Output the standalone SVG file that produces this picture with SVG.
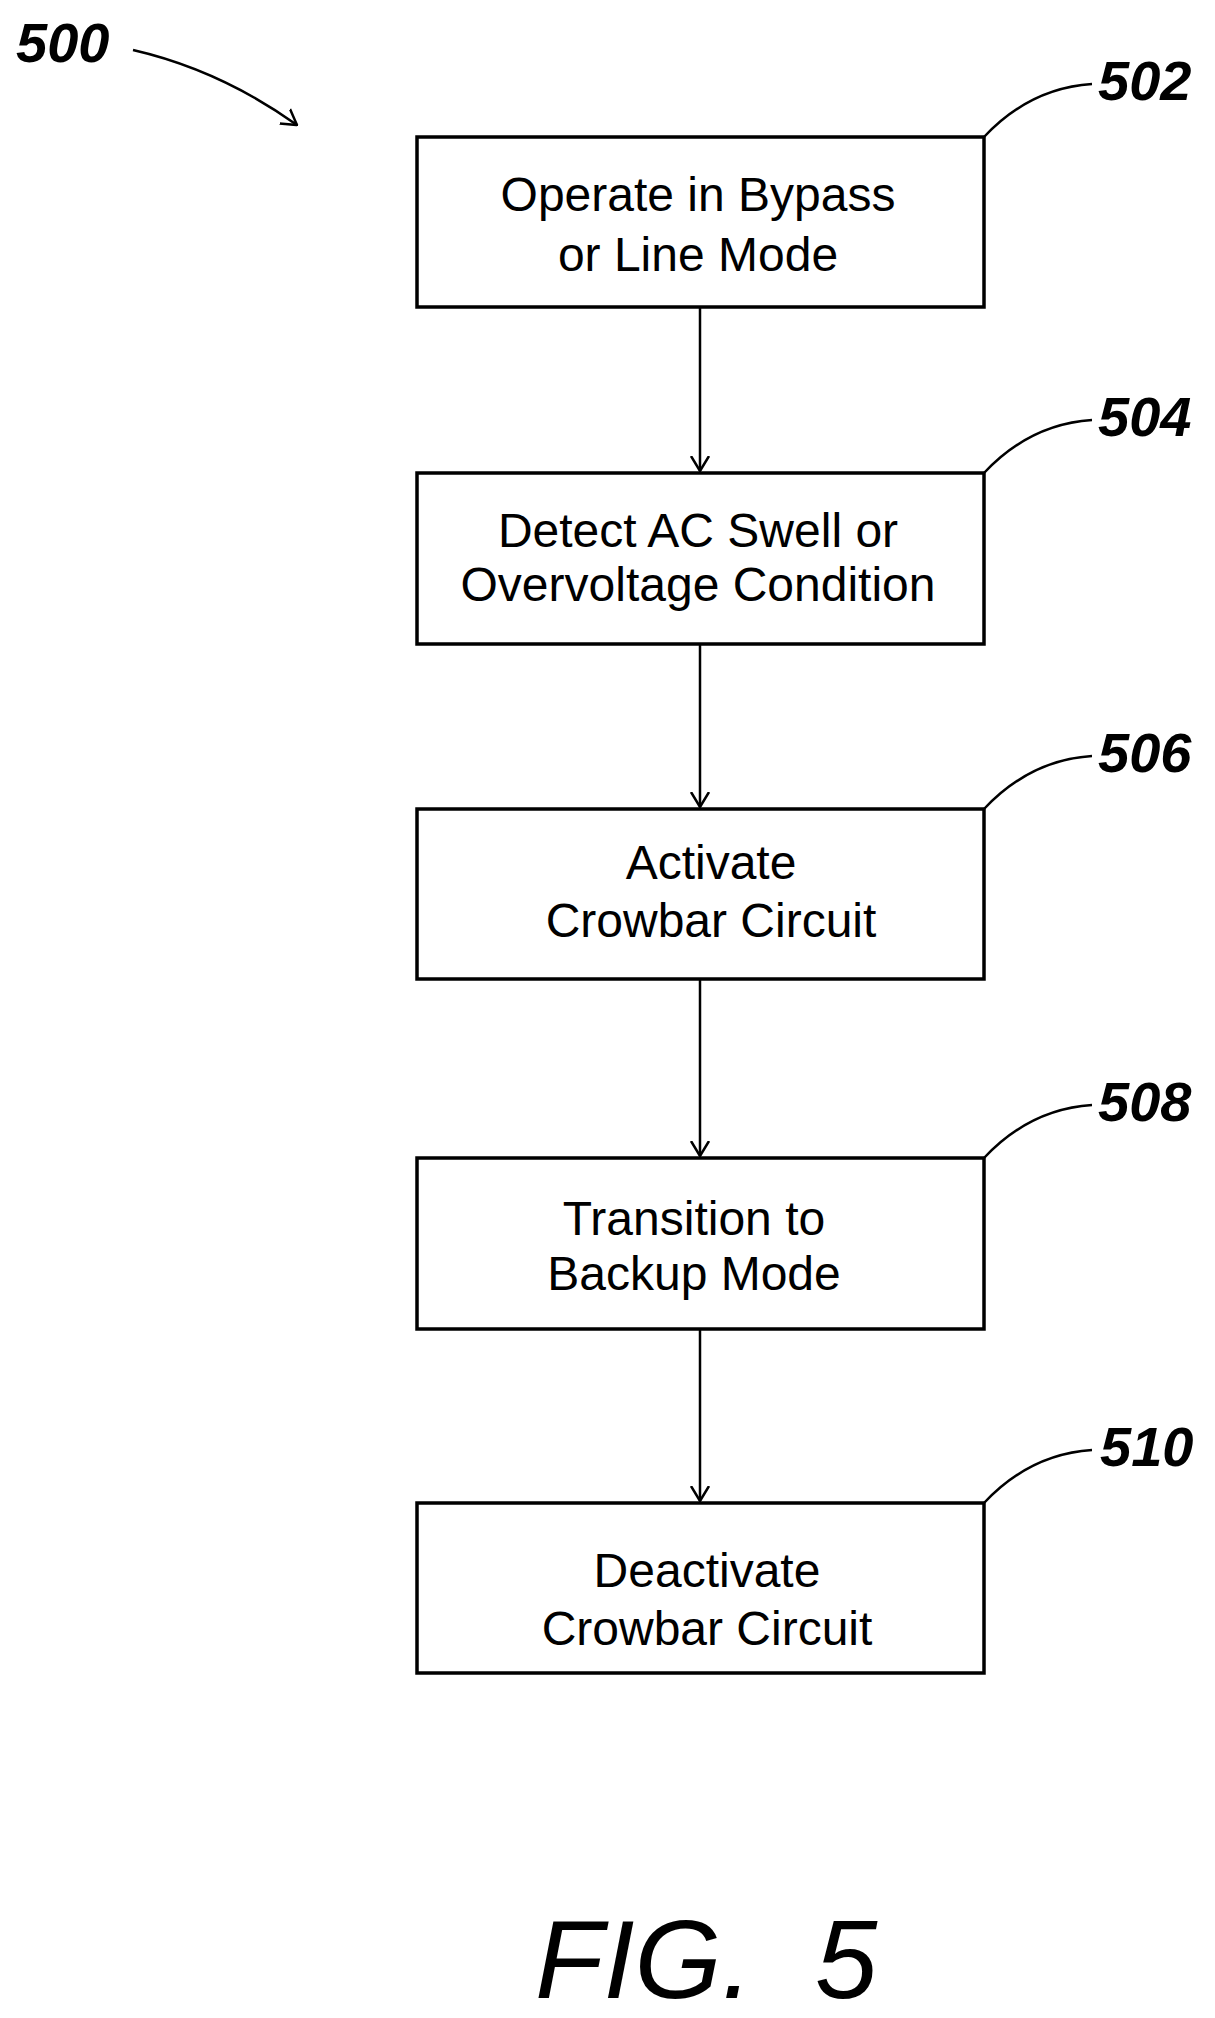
<svg xmlns="http://www.w3.org/2000/svg" width="1215" height="2018" viewBox="0 0 1215 2018">
<defs>
<marker id="ah" markerWidth="16" markerHeight="24" refX="15" refY="12" orient="auto" markerUnits="userSpaceOnUse"><path d="M0,3 L15,12 L0,21" fill="none" stroke="#000" stroke-width="2.5"/></marker>
</defs>
<style>
.box{fill:#fff;stroke:#000;stroke-width:3.5}
.t{font-family:"Liberation Sans",Arial,sans-serif;font-size:48px;text-anchor:middle;fill:#000}
.ref{font-family:"Liberation Sans",Arial,sans-serif;font-size:56px;font-weight:bold;font-style:italic;fill:#000}
.ln{fill:none;stroke:#000;stroke-width:2.5}
.fig{font-family:"Liberation Sans",Arial,sans-serif;font-size:112px;font-style:italic;fill:#000}
</style>
<rect width="1215" height="2018" fill="#fff"/>
<g id="connectors">
<path class="ln" d="M700,307 V471" marker-end="url(#ah)"/>
<path class="ln" d="M700,644 V807" marker-end="url(#ah)"/>
<path class="ln" d="M700,979 V1156" marker-end="url(#ah)"/>
<path class="ln" d="M700,1329 V1501" marker-end="url(#ah)"/>
<path class="ln" d="M133,50 Q220,70 297,125" marker-end="url(#ah)"/>
<path class="ln" d="M984,137 Q1030,88 1092,84"/>
<path class="ln" d="M984,473 Q1030,424 1092,420"/>
<path class="ln" d="M984,809 Q1030,760 1092,756"/>
<path class="ln" d="M984,1158 Q1030,1109 1092,1105"/>
<path class="ln" d="M984,1503 Q1030,1454 1092,1450"/>
</g>
<text class="ref" x="16" y="62">500</text>
<g id="n502"><rect class="box" x="417" y="137" width="567" height="170"/><text class="t" x="698" y="211">Operate in Bypass</text><text class="t" x="698" y="271">or Line Mode</text><text class="ref" x="1098" y="100">502</text></g>
<g id="n504"><rect class="box" x="417" y="473" width="567" height="171"/><text class="t" x="698" y="547">Detect AC Swell or</text><text class="t" x="698" y="601">Overvoltage Condition</text><text class="ref" x="1098" y="436">504</text></g>
<g id="n506"><rect class="box" x="417" y="809" width="567" height="170"/><text class="t" x="711" y="879">Activate</text><text class="t" x="711" y="937">Crowbar Circuit</text><text class="ref" x="1098" y="772">506</text></g>
<g id="n508"><rect class="box" x="417" y="1158" width="567" height="171"/><text class="t" x="694" y="1235">Transition to</text><text class="t" x="694" y="1290">Backup Mode</text><text class="ref" x="1098" y="1121">508</text></g>
<g id="n510"><rect class="box" x="417" y="1503" width="567" height="170"/><text class="t" x="707" y="1587">Deactivate</text><text class="t" x="707" y="1645">Crowbar Circuit</text><text class="ref" x="1100" y="1466">510</text></g>
<text class="fig" x="535" y="1998">FIG.<tspan x="815">5</tspan></text>
</svg>
